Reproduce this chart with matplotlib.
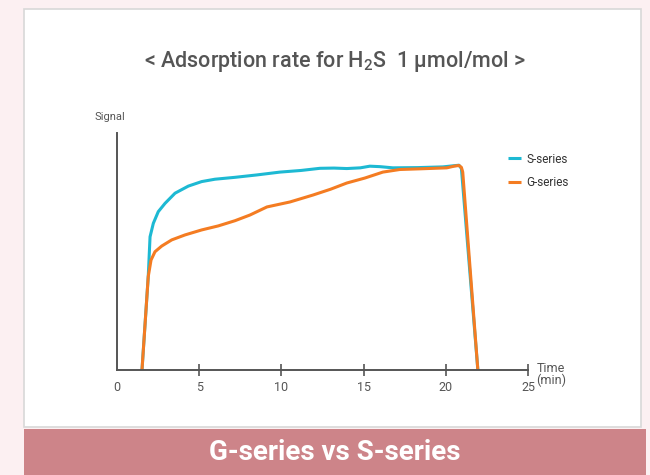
import matplotlib.pyplot as plt
from matplotlib.patches import Rectangle

plt.rcParams['font.family'] = ['Roboto', 'DejaVu Sans']
plt.rcParams['mathtext.default'] = 'regular'

# time in minutes, signal in arbitrary units (0-100 = axis height)
s_time = [1.52, 1.90, 2.01, 2.21, 2.51, 2.92, 3.53, 4.34, 5.15, 5.96, 7.18,
          8.5, 9.91, 11.2, 12.34, 13.2, 13.98, 14.8, 15.38, 16.0, 16.78, 18.3,
          19.82, 20.5, 20.8, 20.95, 21.95]
s_signal = [0, 39.4, 56.2, 61.9, 66.8, 70.3, 74.6, 77.6, 79.5, 80.5, 81.3,
            82.3, 83.5, 84.2, 85.1, 85.2, 85.0, 85.3, 86.0, 85.8, 85.3, 85.4,
            85.7, 86.2, 86.4, 85.0, 0]

g_time = [1.52, 1.90, 2.07, 2.31, 2.72, 3.33, 4.14, 5.15, 6.16, 7.18, 8.09,
          9.12, 10.52, 11.91, 13.0, 13.98, 15.08, 16.17, 17.20, 18.5, 20.06,
          20.5, 20.8, 20.95, 21.03, 21.95]
g_signal = [0, 39.4, 46.4, 49.9, 52.3, 54.9, 57.0, 59.1, 60.8, 63.0, 65.4,
            68.8, 70.9, 73.8, 76.3, 78.9, 81.0, 83.5, 84.6, 84.9, 85.3,
            86.0, 86.3, 85.5, 83.5, 0]

x_ticks = [0, 5, 10, 15, 20, 25]

grey = '#555555'
cyan = '#1db9d3'
orange = '#f47c22'
pink = '#cd8489'

fig = plt.figure(figsize=(6.5, 4.75), dpi=100)
fig.patch.set_facecolor('#fcf0f2')

# white panel and pink caption band
fig.patches.append(Rectangle((24/650, 1-427/475), 617/650, 418/475, transform=fig.transFigure,
                             facecolor='white', edgecolor='#d8d8d8', lw=1.2, zorder=-2))
fig.patches.append(Rectangle((24/650, 0), 622/650, 46/475, transform=fig.transFigure,
                             facecolor=pink, edgecolor='none', zorder=-2))
fig.text(335/650, 22/475, 'G-series vs S-series', color='white', fontsize=20,
         fontweight='bold', ha='center', va='center')

fig.text(335/650, 1-61/475, '< Adsorption rate for H$_2$S  1 μmol/mol >', color=grey,
         fontsize=15.5, fontweight='medium', ha='center', va='center')

ax = fig.add_axes([117/650, 1-370/475, 411/650, 237/475])
ax.set_facecolor('none')
ax.plot(s_time, s_signal, color=cyan, lw=2.2, label='S-series',
        solid_joinstyle='round', solid_capstyle='butt')
ax.plot(g_time, g_signal, color=orange, lw=2.2, label='G-series',
        solid_joinstyle='round', solid_capstyle='butt')

ax.set_xlim(0, 25)
ax.set_ylim(0, 100)
ax.set_xticks(x_ticks)
ax.set_yticks([])
ax.tick_params(axis='x', direction='inout', length=8, width=1.2, color=grey,
               labelcolor=grey, labelsize=9, pad=4)
ax.xaxis.get_major_ticks()[0].tick1line.set_visible(False)
for side in ['top', 'right']:
    ax.spines[side].set_visible(False)
for side in ['left', 'bottom']:
    ax.spines[side].set_color(grey)
    ax.spines[side].set_linewidth(1.4)

ax.text(-0.017, 1.067, 'Signal', transform=ax.transAxes, color=grey, fontsize=8,
        ha='center', va='center')
ax.text(1.056, -0.02, 'Time\n(min)', transform=ax.transAxes, color=grey, fontsize=9,
        ha='center', va='center', linespacing=0.9)

ax.legend(loc='upper left', bbox_to_anchor=(0.925, 0.962), frameon=False, fontsize=8.5,
          handlelength=1.1, handletextpad=0.5, labelspacing=0.85, labelcolor='#333333')

fig.savefig('out.png', dpi=100, facecolor=fig.get_facecolor())
